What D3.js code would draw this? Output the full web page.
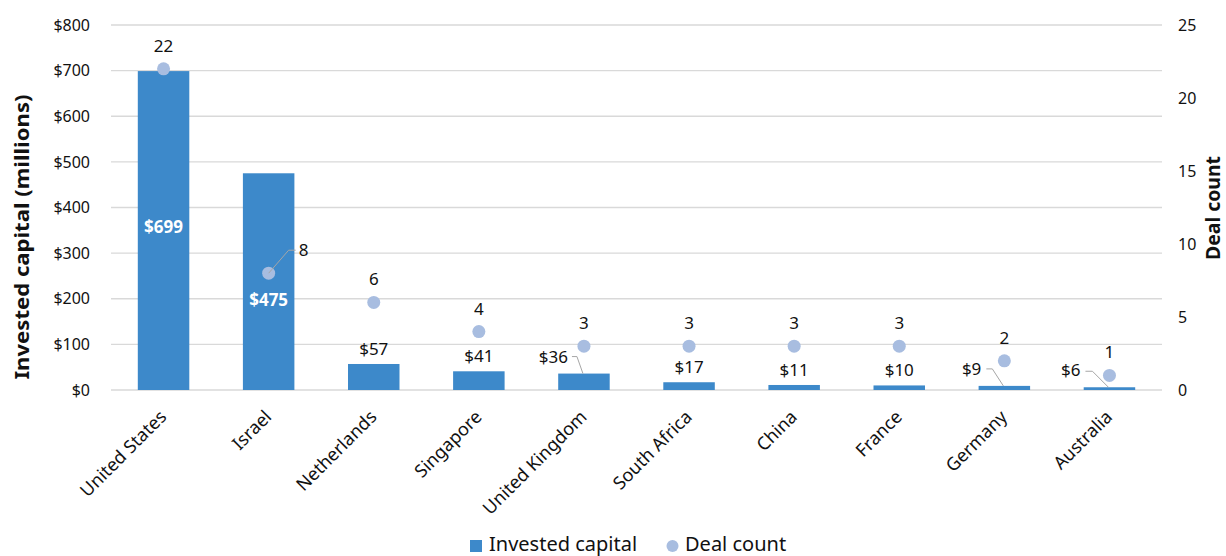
<!DOCTYPE html>
<html><head><meta charset="utf-8">
<script src="https://cdn.jsdelivr.net/npm/d3@7"></script>
<style>body{margin:0;background:#fff;} text{font-family:"Noto Sans",sans-serif;}</style>
</head><body><svg id="c" width="1226" height="556"></svg>
<script>
const categories = ["United States","Israel","Netherlands","Singapore","United Kingdom","South Africa","China","France","Germany","Australia"];
const investedCapital = [699,475,57,41,36,17,11,10,9,6];
const dealCount = [22,8,6,4,3,3,3,3,2,1];
const leftTicks = [0,100,200,300,400,500,600,700,800];
const rightTicks = [0,5,10,15,20,25];

const svg = d3.select("#c");
const L = 111, R = 1162, T = 25, B = 390;
const x = d3.scaleBand().domain(categories).range([L,R]).paddingInner(0.51).paddingOuter(0.255);
const y = d3.scaleLinear().domain([0,800]).range([B,T]);
const y2 = d3.scaleLinear().domain([0,25]).range([B,T]);
const barColor = "#3d89ca", dotColor = "#a8bde0", gridColor = "#d9d9d9", leader = "#a6a6a6";

// gridlines
svg.append("g").selectAll("line").data(leftTicks).join("line")
  .attr("x1",L).attr("x2",R).attr("y1",d=>y(d)).attr("y2",d=>y(d))
  .attr("stroke",gridColor).attr("stroke-width",1.3);

// left axis
const ax = svg.append("g").attr("transform",`translate(${L},0)`)
  .call(d3.axisLeft(y).tickValues(leftTicks).tickFormat(d=>"$"+d).tickSize(0).tickPadding(21));
ax.select(".domain").remove();
ax.selectAll("text").attr("font-size",16).attr("fill","#111").attr("font-family","Noto Sans");
// right axis
const ax2 = svg.append("g").attr("transform",`translate(${R},0)`)
  .call(d3.axisRight(y2).tickValues(rightTicks).tickSize(0).tickPadding(16));
ax2.select(".domain").remove();
ax2.selectAll("text").attr("font-size",16).attr("fill","#111").attr("font-family","Noto Sans");

// titles
svg.append("text").attr("transform","translate(29,237) rotate(-90)").attr("text-anchor","middle")
  .attr("font-size",19).attr("font-weight","bold").attr("fill","#111")
  .attr("textLength",285).attr("lengthAdjust","spacingAndGlyphs").text("Invested capital (millions)");
svg.append("text").attr("transform","translate(1220,208) rotate(-90)").attr("text-anchor","middle")
  .attr("font-size",19).attr("font-weight","bold").attr("fill","#111")
  .attr("textLength",104).attr("lengthAdjust","spacingAndGlyphs").text("Deal count");

// bars
svg.append("g").selectAll("rect").data(categories).join("rect")
  .attr("x",d=>x(d)).attr("width",x.bandwidth())
  .attr("y",(d,i)=>y(investedCapital[i])).attr("height",(d,i)=>B-y(investedCapital[i]))
  .attr("fill",barColor);

// dots
svg.append("g").selectAll("circle").data(categories).join("circle")
  .attr("cx",d=>x(d)+x.bandwidth()/2).attr("cy",(d,i)=>y2(dealCount[i])).attr("r",6.5)
  .attr("fill",dotColor);

// bar value label placement (style only)
const barLabelPlace = {
  "United States":{mode:"inside",dy:162},
  "Israel":{mode:"inside",dy:133},
  "United Kingdom":{mode:"left",bx:-7,by:-17,ex:-12,tx:-16},
  "Germany":{mode:"left",bx:-12,by:-17,ex:-18,tx:-23},
  "Australia":{mode:"left",bx:-17,by:-16,ex:-24,tx:-29}
};
categories.forEach((c,i)=>{
  const cx = x(c)+x.bandwidth()/2, top = y(investedCapital[i]);
  const p = barLabelPlace[c];
  const label = "$"+investedCapital[i];
  if(p && p.mode==="inside"){
    svg.append("text").attr("x",cx).attr("y",top+p.dy).attr("text-anchor","middle")
      .attr("font-size",17).attr("font-weight","bold").attr("fill","#fff").text(label);
  } else if(p && p.mode==="left"){
    svg.append("polyline").attr("points",`${cx-1},${top} ${cx+p.bx},${top+p.by} ${cx+p.ex},${top+p.by}`)
      .attr("fill","none").attr("stroke",leader).attr("stroke-width",1);
    svg.append("text").attr("x",cx+p.tx).attr("y",top-11).attr("text-anchor","end")
      .attr("font-size",17).attr("fill","#111").text(label);
  } else {
    svg.append("text").attr("x",cx).attr("y",top-9).attr("text-anchor","middle")
      .attr("font-size",17).attr("fill","#111").text(label);
  }
});

// deal count labels
categories.forEach((c,i)=>{
  const cx = x(c)+x.bandwidth()/2, cy = y2(dealCount[i]);
  if(c==="Israel"){
    svg.append("polyline").attr("points",`${cx},${cy} ${cx+20},${cy-23} ${cx+27},${cy-23}`)
      .attr("fill","none").attr("stroke",leader).attr("stroke-width",1);
    svg.append("text").attr("x",cx+30).attr("y",cy-17).attr("font-size",17).attr("fill","#111").text(dealCount[i]);
  } else {
    svg.append("text").attr("x",cx).attr("y",cy-17).attr("text-anchor","middle")
      .attr("font-size",17).attr("fill","#111").text(dealCount[i]);
  }
});

// x labels
svg.append("g").selectAll("text").data(categories).join("text")
  .attr("transform",d=>`translate(${x(d)+x.bandwidth()/2+4},${B+28}) rotate(-45)`)
  .attr("text-anchor","end").attr("font-size",18).attr("fill","#111").text(d=>d);

// legend
const lg = svg.append("g");
lg.append("rect").attr("x",470).attr("y",540).attr("width",12).attr("height",12).attr("fill",barColor);
lg.append("text").attr("x",489).attr("y",551).attr("font-size",20).attr("fill","#111").text("Invested capital");
lg.append("circle").attr("cx",672.5).attr("cy",546).attr("r",6).attr("fill",dotColor);
lg.append("text").attr("x",685).attr("y",551).attr("font-size",20).attr("fill","#111").text("Deal count");
</script></body></html>
